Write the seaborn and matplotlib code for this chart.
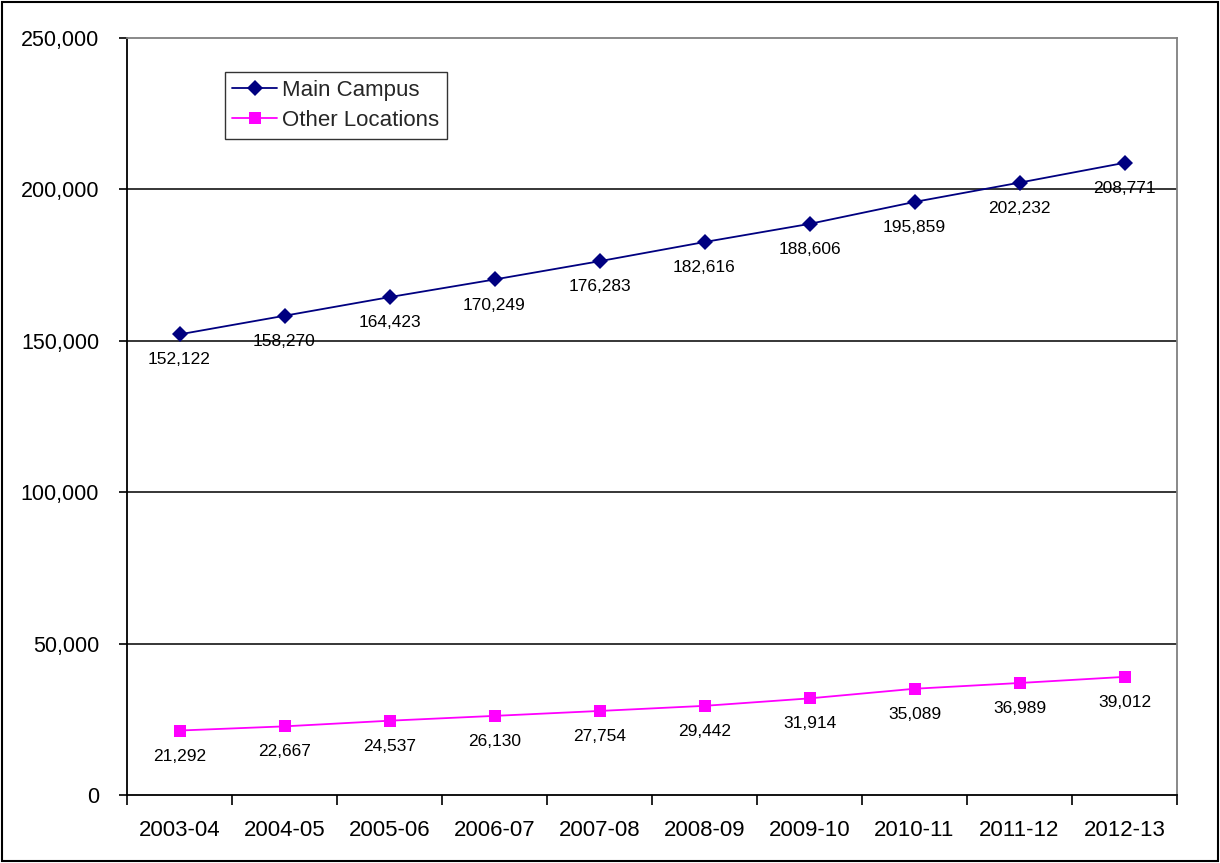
import matplotlib
matplotlib.use("Agg")
import matplotlib.pyplot as plt
import matplotlib.ticker as mticker
import seaborn as sns
import pandas as pd

years = ["2003-04", "2004-05", "2005-06", "2006-07", "2007-08",
         "2008-09", "2009-10", "2010-11", "2011-12", "2012-13"]
main_campus = [152122, 158270, 164423, 170249, 176283,
               182616, 188606, 195859, 202232, 208771]
other_locations = [21292, 22667, 24537, 26130, 27754,
                   29442, 31914, 35089, 36989, 39012]
series_names = ["Main Campus", "Other Locations"]
y_ticks = [0, 50000, 100000, 150000, 200000, 250000]

sns.set_theme(style="white")
plt.rcParams["font.family"] = ["Liberation Sans", "DejaVu Sans"]

df = pd.DataFrame({
    "year": years * 2,
    "value": main_campus + other_locations,
    "series": [series_names[0]] * len(years) + [series_names[1]] * len(years),
})

fig = plt.figure(figsize=(12.2, 8.63), dpi=100)
ax = fig.add_axes([127 / 1220, 1 - 795 / 863, 1050 / 1220, 757 / 863])

palette = {series_names[0]: "#000080", series_names[1]: "#FF00FF"}
markers = {series_names[0]: "D", series_names[1]: "s"}
sns.lineplot(data=df, x="year", y="value", hue="series", style="series",
             palette=palette, markers=markers, dashes=False, markersize=8.5,
             markeredgewidth=0, linewidth=1.3, ax=ax, sort=False)

# value labels under each point
for vals in (main_campus, other_locations):
    for i, v in enumerate(vals):
        ax.annotate(f"{v:,}", (i, v), xytext=(0, -13), textcoords="offset points",
                    ha="center", va="top", fontsize=12.5, color="black")

ax.set_xlim(-0.5, len(years) - 0.5)
ax.set_ylim(0, 250000)
ax.set_yticks(y_ticks)
ax.yaxis.set_major_formatter(mticker.FuncFormatter(lambda v, p: f"{int(v):,}"))
ax.set_xticks(range(len(years)))
ax.set_xticklabels(years)
ax.set_xticks([i - 0.5 for i in range(len(years) + 1)], minor=True)
ax.tick_params(axis="x", which="major", length=0, pad=18, labelsize=16)
ax.tick_params(axis="x", which="minor", length=7, width=1.2, color="black",
               direction="out", bottom=True)
ax.tick_params(axis="y", which="major", length=6, width=1.2, color="black",
               direction="out", left=True, pad=14, labelsize=15.5)
for lbl in ax.get_xticklabels() + ax.get_yticklabels():
    lbl.set_color("black")

ax.set_xlabel("")
ax.set_ylabel("")

ax.grid(False)
for y in y_ticks[1:-1]:
    ax.axhline(y, color="black", linewidth=1.1, zorder=0)

for side in ("left", "bottom"):
    ax.spines[side].set_color("black")
    ax.spines[side].set_linewidth(1.3)
for side in ("top", "right"):
    ax.spines[side].set_color("#808080")
    ax.spines[side].set_linewidth(1.3)

leg = ax.legend(loc="upper left", bbox_to_anchor=(0.093, 0.955), fontsize=16,
                frameon=True, fancybox=False, edgecolor="black",
                handlelength=2.0, borderpad=0.35, labelspacing=0.4,
                handletextpad=0.25, borderaxespad=0)
leg.get_frame().set_linewidth(1.0)
leg.set_title(None)

# outer frame around the whole figure
fig.patches.append(plt.Rectangle((2 / 1220, 2 / 863), 1 - 4 / 1220, 1 - 4 / 863,
                                 transform=fig.transFigure, fill=False,
                                 edgecolor="black", linewidth=1.5))

fig.savefig("out.png", dpi=100)
